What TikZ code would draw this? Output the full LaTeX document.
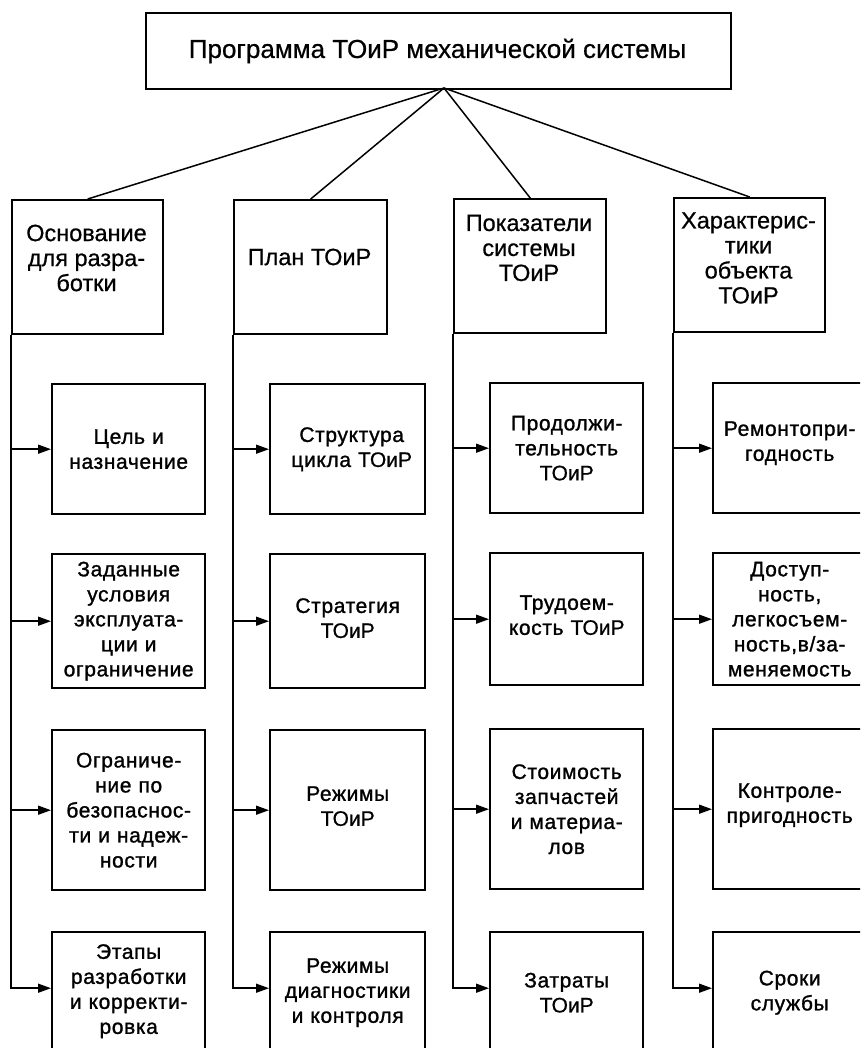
\documentclass[tikz,border=0pt]{standalone}
\usepackage{fontspec}
\setmainfont{Liberation Sans}
\newfontfamily\spacedfont{Liberation Sans}[LetterSpace=3,FakeBold=1.2]
\newfontfamily\headfont{Liberation Sans}[FakeBold=0.6]
\usetikzlibrary{arrows.meta}
\newcommand\toir{{\headfont ТОиР}}
\begin{document}
\begin{tikzpicture}[x=1pt,y=-1pt,
  frame/.style={draw, line width=2.4pt, rectangle, inner sep=0pt, anchor=north west},
  link/.style={line width=1.5pt},
  feed/.style={line width=1.5pt, -{Triangle[length=13pt,width=9pt]}},
  toptext/.style={font=\headfont\fontsize{26}{32}\selectfont},
  headtext/.style={align=center, font=\headfont\fontsize{23.5}{25}\selectfont},
  subtext/.style={align=center, text width=150pt, font=\spacedfont\fontsize{21}{25}\selectfont},
]
\useasboundingbox (0,0) rectangle (860,1048);
\clip (0,0) rectangle (860,1048);

% root
\node[frame, minimum width=585pt, minimum height=76pt] (top) at (145,12) {};
\node[toptext] (toplabel) at (437.5,51) {Программа ТОиР механической системы};
\coordinate (apex) at (444,88);

% four branch heads
\node[frame, minimum width=151pt, minimum height=134pt] (h1) at (11,199) {};
\node[frame, minimum width=153pt, minimum height=134pt] (h2) at (233,199) {};
\node[frame, minimum width=152pt, minimum height=134pt] (h3) at (453,198) {};
\node[frame, minimum width=151pt, minimum height=134pt] (h4) at (673,197) {};
\node[headtext] (t1) at (86.5,258) {Основание\\для разра-\\ботки};
\node[headtext] (t2) at (309.5,257) {План ТОиР};
\node[headtext] (t3) at (529,248) {Показатели\\системы\\ТОиР};
\node[headtext] (t4) at (748.5,258) {Характерис-\\тики\\объекта\\ТОиР};

\foreach \h in {h1,h2,h3,h4} \draw[link] (apex) -- (\h.north);

% column 1
\node[frame, minimum width=153pt, minimum height=130pt] (c11) at (51,383) {};
\node[frame, minimum width=153pt, minimum height=134pt] (c12) at (51,553) {};
\node[frame, minimum width=153pt, minimum height=160pt] (c13) at (51,729) {};
\node[frame, minimum width=153pt, minimum height=121pt] (c14) at (51,931) {};
% column 2
\node[frame, minimum width=155pt, minimum height=130pt] (c21) at (269,383) {};
\node[frame, minimum width=155pt, minimum height=134pt] (c22) at (269,553) {};
\node[frame, minimum width=155pt, minimum height=160pt] (c23) at (269,729) {};
\node[frame, minimum width=155pt, minimum height=121pt] (c24) at (269,931) {};
% column 3
\node[frame, minimum width=153pt, minimum height=130pt] (c31) at (489,382) {};
\node[frame, minimum width=153pt, minimum height=132pt] (c32) at (489,552) {};
\node[frame, minimum width=153pt, minimum height=160pt] (c33) at (489,728) {};
\node[frame, minimum width=153pt, minimum height=121pt] (c34) at (489,931) {};
% column 4
\node[frame, minimum width=153pt, minimum height=130pt] (c41) at (712,382) {};
\node[frame, minimum width=153pt, minimum height=132pt] (c42) at (712,552) {};
\node[frame, minimum width=153pt, minimum height=160pt] (c43) at (712,728) {};
\node[frame, minimum width=153pt, minimum height=121pt] (c44) at (712,931) {};

% box texts
\node[subtext] (s11) at (c11.center) {Цель и\\назначение};
\node[subtext] (s12) at (c12.center) {Заданные\\условия\\эксплуата-\\ции и\\ограничение};
\node[subtext] (s13) at (c13.center) {Ограниче-\\ние по\\безопаснос-\\ти и надеж-\\ности};
\node[subtext] (s14) at ([yshift=1.5pt]c14.center) {Этапы\\разработки\\и корректи-\\ровка};
\node[subtext] (s21) at ([xshift=4pt]c21.center) {Структура\\цикла \toir};
\node[subtext] (s22) at ([yshift=3pt]c22.center) {Стратегия\\\toir};
\node[subtext] (s23) at ([yshift=4pt]c23.center) {Режимы\\\toir};
\node[subtext] (s24) at (c24.center) {Режимы\\диагностики\\и контроля};
\node[subtext] (s31) at (c31.center) {Продолжи-\\тельность\\\toir};
\node[subtext] (s32) at ([yshift=4pt]c32.center) {Трудоем-\\кость \toir};
\node[subtext] (s33) at (c33.center) {Стоимость\\запчастей\\и материа-\\лов};
\node[subtext] (s34) at (c34.center) {Затраты\\\toir};
\node[subtext] (s41) at ([yshift=5pt]c41.center) {Ремонтопри-\\годность};
\node[subtext] (s42) at (c42.center) {Доступ-\\ность,\\легкосъем-\\ность,в/за-\\меняемость};
\node[subtext] (s43) at ([yshift=4pt]c43.center) {Контроле-\\пригодность};
\node[subtext] (s44) at (c44.center) {Сроки\\службы};

% feeder lines with arrows into each box
\foreach \col in {1,2,3,4}{
  \draw[feed] (h\col.south west) |- ([yshift=4.5pt]c\col4.west);
  \foreach \row in {1,2,3}
    \draw[feed] (h\col.south west |- c\col\row.west) -- (c\col\row.west);
}
\end{tikzpicture}
\end{document}
